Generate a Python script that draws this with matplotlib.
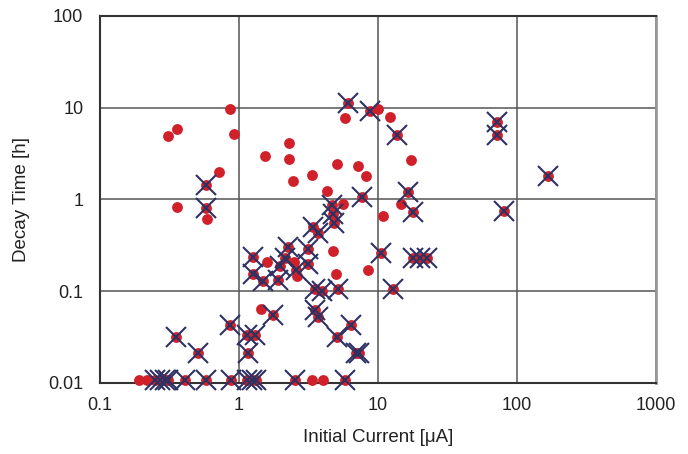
import matplotlib
matplotlib.use("Agg")
import matplotlib.pyplot as plt

# red dots without a cross
dot_current = [0.31, 0.36, 0.86, 0.92, 0.72, 0.36, 0.59, 1.54, 2.3, 2.3,
               2.45, 3.35, 5.1, 7.2, 8.2, 4.3, 5.8, 10.0, 12.2, 17.3,
               5.6, 14.6, 10.9, 1.6, 2.5, 2.6, 4.75, 5.0, 8.5, 1.44,
               0.191, 0.217, 3.35, 4.02]
dot_decay = [4.9, 5.9, 9.7, 5.2, 2.0, 0.83, 0.61, 3.0, 4.1, 2.75,
             1.6, 1.85, 2.45, 2.3, 1.8, 1.24, 7.7, 9.7, 7.9, 2.7,
             0.89, 0.89, 0.66, 0.21, 0.21, 0.147, 0.275, 0.155, 0.17, 0.064,
             0.0108, 0.0108, 0.0108, 0.0108]

# red dots marked with a cross
cross_current = [0.58, 0.58, 6.1, 8.8, 13.7, 7.7, 16.4, 17.9, 4.67, 4.75,
                 4.8, 3.4, 3.7, 72, 72, 167, 80, 2.25, 3.13, 1.26,
                 2.14, 1.97, 3.13, 2.57, 1.26, 1.49, 1.91, 10.5, 17.9, 20.0,
                 22.5, 3.5, 3.95, 5.15, 12.8, 1.76, 3.5, 3.7, 6.4, 5.07,
                 7.0, 7.3, 0.86, 0.35, 0.51, 1.14, 1.3, 1.16,
                 0.249, 0.27, 0.294, 0.308, 0.409, 0.579, 0.876, 1.14, 1.24, 1.33,
                 2.53, 5.79]
cross_decay = [1.44, 0.8, 11.3, 9.2, 5.0, 1.06, 1.2, 0.73, 0.87, 0.7,
               0.55, 0.5, 0.43, 7.0, 5.0, 1.8, 0.75, 0.3, 0.29, 0.236,
               0.23, 0.19, 0.2, 0.17, 0.154, 0.13, 0.133, 0.26, 0.23, 0.23,
               0.23, 0.106, 0.1, 0.106, 0.106, 0.055, 0.0625, 0.052, 0.043, 0.032,
               0.021, 0.021, 0.043, 0.032, 0.021, 0.033, 0.033, 0.021,
               0.0108, 0.0108, 0.0108, 0.0108, 0.0108, 0.0108, 0.0108, 0.0108, 0.0108, 0.0108,
               0.0108, 0.0108]

x_ticks = [0.1, 1, 10, 100, 1000]
x_tick_labels = ["0.1", "1", "10", "100", "1000"]
y_ticks = [0.01, 0.1, 1, 10, 100]
y_tick_labels = ["0.01", "0.1", "1", "10", "100"]

plt.rcParams['font.family'] = ['Liberation Sans', 'DejaVu Sans']

red = '#d0202a'
navy = '#2d3263'
grid_color = '#555555'

fig = plt.figure(figsize=(6.88, 4.54), dpi=100, facecolor='white')
ax = fig.add_axes([0.1453, 0.1564, 0.8082, 0.8084])

ax.set_xscale('log')
ax.set_yscale('log')
ax.set_xlim(0.1, 1000)
ax.set_ylim(0.01, 100)

# grid on decades only
ax.grid(True, which='major', color=grid_color, linewidth=1.1)
ax.minorticks_off()
ax.set_axisbelow(True)

ax.plot(dot_current, dot_decay, 'o', color=red, markersize=7.8,
        markeredgewidth=0, clip_on=False, zorder=3)
ax.plot(cross_current, cross_decay, 'o', color=red, markersize=7.8,
        markeredgewidth=0, clip_on=False, zorder=3)
ax.plot(cross_current, cross_decay, 'x', color=navy, markersize=14.5,
        markeredgewidth=1.5, clip_on=False, zorder=4)

ax.set_xticks(x_ticks)
ax.set_xticklabels(x_tick_labels)
ax.set_yticks(y_ticks)
ax.set_yticklabels(y_tick_labels)
ax.tick_params(length=0, labelsize=13, colors='#222222', pad=10)
ax.tick_params(axis='y', pad=12)

for side in ['left', 'bottom', 'top']:
    ax.spines[side].set_color('#333333')
    ax.spines[side].set_linewidth(1.5)
ax.spines['right'].set_color('#999999')
ax.spines['right'].set_linewidth(2)

ax.set_xlabel('Initial Current [\u03bcA]', fontsize=13.5, color='#222222', labelpad=11)
ax.set_ylabel('Decay Time [h]', fontsize=13.5, color='#222222', labelpad=13)

fig.savefig('out.png', dpi=100, facecolor='white')
